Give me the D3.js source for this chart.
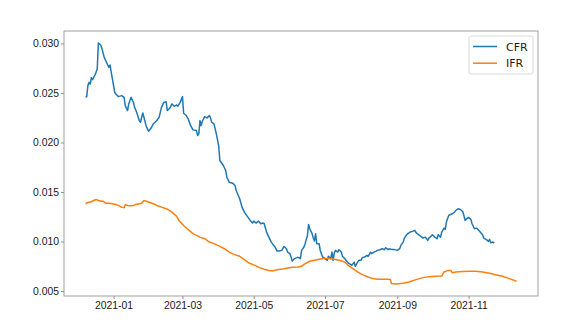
<!DOCTYPE html>
<html>
<head>
<meta charset="utf-8">
<script src="https://cdn.jsdelivr.net/npm/d3@7"></script>
<style>
  body { margin: 0; background: #fff; }
  svg { font-family: "DejaVu Sans", sans-serif; }
  .axis path, .axis line { stroke: #8c8c8c; }
  .axis text { fill: #1a1a1a; font-size: 10.4px; }
</style>
</head>
<body>
<svg id="main" width="586" height="324"></svg>
<script>
// values
var cfrDates = [
  "2020-12-08","2020-12-09","2020-12-10","2020-12-11","2020-12-12","2020-12-13","2020-12-14","2020-12-16",
  "2020-12-17","2020-12-18","2020-12-19","2020-12-21","2020-12-22","2020-12-24","2020-12-26","2020-12-28",
  "2020-12-29","2020-12-30","2020-12-31","2021-01-02","2021-01-03","2021-01-05","2021-01-08","2021-01-10",
  "2021-01-11","2021-01-13","2021-01-14","2021-01-16","2021-01-18","2021-01-19","2021-01-21","2021-01-23",
  "2021-01-24","2021-01-26","2021-01-27","2021-01-29","2021-01-31","2021-02-02","2021-02-04","2021-02-07",
  "2021-02-09","2021-02-11","2021-02-13","2021-02-15","2021-02-16","2021-02-18","2021-02-20","2021-02-22",
  "2021-02-24","2021-02-25","2021-02-27","2021-03-01","2021-03-02","2021-03-04","2021-03-06","2021-03-08",
  "2021-03-10","2021-03-13","2021-03-14","2021-03-15","2021-03-16","2021-03-17","2021-03-18","2021-03-20",
  "2021-03-22","2021-03-24","2021-03-25","2021-03-26","2021-03-28","2021-03-30","2021-04-01","2021-04-02",
  "2021-04-05","2021-04-07","2021-04-08","2021-04-10","2021-04-13","2021-04-15","2021-04-16","2021-04-19",
  "2021-04-21","2021-04-23","2021-04-26","2021-04-28","2021-04-30","2021-05-01","2021-05-03","2021-05-05",
  "2021-05-07","2021-05-09","2021-05-10","2021-05-12","2021-05-14","2021-05-16","2021-05-17","2021-05-19",
  "2021-05-21","2021-05-23","2021-05-25","2021-05-27","2021-05-29","2021-05-30","2021-06-01","2021-06-02",
  "2021-06-03","2021-06-05","2021-06-07","2021-06-09","2021-06-10","2021-06-11","2021-06-13","2021-06-14",
  "2021-06-16","2021-06-17","2021-06-18","2021-06-20","2021-06-21","2021-06-22","2021-06-23","2021-06-24",
  "2021-06-26","2021-06-27","2021-06-29","2021-06-30","2021-07-01","2021-07-03","2021-07-04","2021-07-06",
  "2021-07-07","2021-07-08","2021-07-09","2021-07-10","2021-07-12","2021-07-13","2021-07-15","2021-07-16",
  "2021-07-18","2021-07-19","2021-07-21","2021-07-22","2021-07-24","2021-07-26","2021-07-27","2021-07-29",
  "2021-07-30","2021-08-01","2021-08-02","2021-08-04","2021-08-06","2021-08-07","2021-08-09","2021-08-10",
  "2021-08-12","2021-08-14","2021-08-15","2021-08-17","2021-08-19","2021-08-21","2021-08-22","2021-08-24",
  "2021-08-25","2021-08-27","2021-08-29","2021-09-01","2021-09-03","2021-09-04","2021-09-06","2021-09-07",
  "2021-09-09","2021-09-10","2021-09-12","2021-09-14","2021-09-16","2021-09-17","2021-09-18","2021-09-20",
  "2021-09-22","2021-09-23","2021-09-25","2021-09-27","2021-09-28","2021-09-30","2021-10-01","2021-10-03",
  "2021-10-05","2021-10-06","2021-10-08","2021-10-09","2021-10-11","2021-10-12","2021-10-13","2021-10-15",
  "2021-10-16","2021-10-18","2021-10-20","2021-10-21","2021-10-23","2021-10-25","2021-10-27","2021-10-28",
  "2021-10-29","2021-10-31","2021-11-01","2021-11-03","2021-11-04","2021-11-06","2021-11-08","2021-11-09",
  "2021-11-11","2021-11-13","2021-11-14","2021-11-16","2021-11-18","2021-11-19","2021-11-20","2021-11-22",
  "2021-11-23"
];
var cfrValues = [
  0.02456,0.02463,0.02574,0.02607,0.02590,0.02654,0.02634,0.02681,
  0.02708,0.02742,0.03004,0.02984,0.02950,0.02859,0.02808,0.02758,
  0.02782,0.02708,0.02641,0.02506,0.02490,0.02463,0.02473,0.02456,
  0.02372,0.02322,0.02389,0.02456,0.02405,0.02355,0.02298,0.02221,
  0.02204,0.02298,0.02254,0.02163,0.02113,0.02143,0.02187,0.02221,
  0.02254,0.02355,0.02405,0.02412,0.02322,0.02345,0.02389,0.02365,
  0.02379,0.02365,0.02405,0.02463,0.02295,0.02275,0.02235,0.02170,
  0.02127,0.02120,0.02070,0.02087,0.02221,0.02170,0.02214,0.02261,
  0.02248,0.02271,0.02248,0.02204,0.02187,0.02087,0.01969,0.01818,
  0.01767,0.01717,0.01649,0.01599,0.01589,0.01566,0.01515,0.01431,
  0.01347,0.01296,0.01246,0.01213,0.01186,0.01206,0.01186,0.01206,
  0.01179,0.01186,0.01179,0.01095,0.01044,0.00994,0.00978,0.00950,
  0.00903,0.00903,0.00910,0.00950,0.00927,0.00893,0.00877,0.00843,
  0.00802,0.00827,0.00837,0.00837,0.00827,0.00910,0.00944,0.00978,
  0.01061,0.01172,0.01129,0.01079,0.01038,0.01004,0.01079,0.00978,
  0.00978,0.00910,0.00843,0.00837,0.00827,0.00810,0.00850,0.00827,
  0.00893,0.00810,0.00883,0.00910,0.00893,0.00917,0.00893,0.00850,
  0.00827,0.00810,0.00782,0.00776,0.00759,0.00792,0.00749,0.00792,
  0.00810,0.00810,0.00837,0.00843,0.00860,0.00850,0.00893,0.00877,
  0.00893,0.00903,0.00910,0.00917,0.00927,0.00917,0.00937,0.00917,
  0.00927,0.00920,0.00920,0.00910,0.00927,0.00960,0.00994,0.01034,
  0.01068,0.01079,0.01095,0.01102,0.01112,0.01089,0.01079,0.01061,
  0.01044,0.01034,0.01044,0.01011,0.01034,0.01054,0.01068,0.01044,
  0.01028,0.01068,0.01044,0.01095,0.01135,0.01122,0.01196,0.01263,
  0.01270,0.01280,0.01296,0.01313,0.01330,0.01323,0.01303,0.01263,
  0.01213,0.01236,0.01243,0.01223,0.01179,0.01129,0.01135,0.01122,
  0.01095,0.01068,0.01034,0.01021,0.01001,0.01021,0.00988,0.00994,
  0.00984
];
var ifrDates = [
  "2020-12-08","2020-12-10","2020-12-13","2020-12-15","2020-12-17","2020-12-19","2020-12-22","2020-12-23",
  "2020-12-25","2020-12-28","2020-12-31","2021-01-03","2021-01-05","2021-01-08","2021-01-10","2021-01-11",
  "2021-01-13","2021-01-15","2021-01-18","2021-01-20","2021-01-23","2021-01-25","2021-01-27","2021-01-29",
  "2021-02-01","2021-02-04","2021-02-07","2021-02-11","2021-02-15","2021-02-17","2021-02-20","2021-02-24",
  "2021-02-26","2021-03-02","2021-03-06","2021-03-10","2021-03-13","2021-03-16","2021-03-20","2021-03-24",
  "2021-03-28","2021-04-02","2021-04-06","2021-04-10","2021-04-14","2021-04-19","2021-04-23","2021-04-27",
  "2021-05-02","2021-05-06","2021-05-10","2021-05-14","2021-05-17","2021-05-22","2021-05-26","2021-05-30",
  "2021-06-03","2021-06-08","2021-06-11","2021-06-13","2021-06-18","2021-06-22","2021-06-26","2021-06-30",
  "2021-07-05","2021-07-09","2021-07-13","2021-07-18","2021-07-21","2021-07-25","2021-07-29","2021-08-02",
  "2021-08-07","2021-08-11","2021-08-15","2021-08-19","2021-08-24","2021-08-26","2021-08-27","2021-08-31",
  "2021-09-06","2021-09-11","2021-09-17","2021-09-23","2021-09-28","2021-10-04","2021-10-09","2021-10-11",
  "2021-10-14","2021-10-17","2021-10-18","2021-10-21","2021-10-27","2021-11-02","2021-11-07","2021-11-13",
  "2021-11-19","2021-11-24","2021-11-30","2021-12-06","2021-12-12"
];
var ifrValues = [
  0.01381,0.01394,0.01401,0.01414,0.01424,0.01414,0.01407,0.01407,
  0.01387,0.01387,0.01381,0.01374,0.01364,0.01347,0.01341,0.01371,
  0.01364,0.01361,0.01364,0.01374,0.01381,0.01387,0.01414,0.01407,
  0.01394,0.01381,0.01364,0.01347,0.01330,0.01320,0.01296,0.01253,
  0.01213,0.01162,0.01119,0.01079,0.01061,0.01044,0.01028,0.00994,
  0.00978,0.00950,0.00927,0.00893,0.00870,0.00850,0.00816,0.00782,
  0.00759,0.00736,0.00719,0.00706,0.00702,0.00716,0.00722,0.00732,
  0.00739,0.00742,0.00749,0.00769,0.00800,0.00810,0.00820,0.00827,
  0.00827,0.00820,0.00810,0.00792,0.00759,0.00726,0.00692,0.00665,
  0.00641,0.00625,0.00618,0.00618,0.00618,0.00615,0.00575,0.00571,
  0.00578,0.00591,0.00615,0.00635,0.00645,0.00648,0.00651,0.00692,
  0.00706,0.00706,0.00685,0.00692,0.00696,0.00699,0.00699,0.00692,
  0.00678,0.00665,0.00648,0.00625,0.00598
];
var seriesNames = ["CFR", "IFR"];
var seriesColors = ["#1f77b4", "#ff7f0e"];
var yTicks = [0.005, 0.010, 0.015, 0.020, 0.025, 0.030];

var parseDate = d3.timeParse("%Y-%m-%d");

function toPoints(dates, values) {
  return dates.map(function(d, i) {
    return { date: parseDate(d), value: values[i] };
  });
}

var series = [toPoints(cfrDates, cfrValues), toPoints(ifrDates, ifrValues)];

var svg = d3.select("#main");
var margin = { top: 31, right: 48, bottom: 28, left: 64 };
var width = 586 - margin.left - margin.right;
var height = 324 - margin.top - margin.bottom;

// matplotlib-like 5% padding around the data
var allPoints = series[0].concat(series[1]);
var xExt = d3.extent(allPoints, function(d) { return +d.date; });
var yExt = d3.extent(allPoints, function(d) { return d.value; });
var xPad = (xExt[1] - xExt[0]) * 0.05;
var yPad = (yExt[1] - yExt[0]) * 0.05;

var x = d3.scaleTime()
  .domain([new Date(xExt[0] - xPad), new Date(xExt[1] + xPad)])
  .range([0, width]);
var y = d3.scaleLinear()
  .domain([yExt[0] - yPad, yExt[1] + yPad])
  .range([height, 0]);

var g = svg.append("g").attr("transform", "translate(" + margin.left + "," + margin.top + ")");

g.append("g")
  .attr("class", "axis")
  .attr("transform", "translate(0," + height + ")")
  .call(d3.axisBottom(x)
    .ticks(d3.timeMonth.every(2))
    .tickFormat(d3.timeFormat("%Y-%m"))
    .tickSize(3)
    .tickPadding(3))
  .call(function(a) { a.select(".domain").remove(); });

g.append("g")
  .attr("class", "axis")
  .call(d3.axisLeft(y)
    .tickValues(yTicks)
    .tickFormat(d3.format(".3f"))
    .tickSize(3)
    .tickPadding(2))
  .call(function(a) { a.select(".domain").remove(); });

var line = d3.line()
  .x(function(d) { return x(d.date); })
  .y(function(d) { return y(d.value); });

g.selectAll("path.series")
  .data(series)
  .enter()
  .append("path")
  .attr("class", "series")
  .attr("fill", "none")
  .attr("stroke", function(d, i) { return seriesColors[i]; })
  .attr("stroke-width", 1.5)
  .attr("stroke-linejoin", "round")
  .attr("d", line);

// axes frame
g.append("rect")
  .attr("width", width)
  .attr("height", height)
  .attr("fill", "none")
  .attr("stroke", "#a0a0a0")
  .attr("stroke-width", 1);

// legend
var legend = g.append("g").attr("transform", "translate(" + (width - 69) + ",5)");
legend.append("rect")
  .attr("width", 64)
  .attr("height", 38)
  .attr("rx", 2)
  .attr("fill", "#fff")
  .attr("fill-opacity", 0.8)
  .attr("stroke", "#d9d9d9");

var items = legend.selectAll("g.item")
  .data(seriesNames)
  .enter()
  .append("g")
  .attr("class", "item")
  .attr("transform", function(d, i) { return "translate(0," + (10.5 + i * 16.7) + ")"; });

items.append("line")
  .attr("x1", 4).attr("x2", 28)
  .attr("stroke", function(d, i) { return seriesColors[i]; })
  .attr("stroke-width", 1.5);

items.append("text")
  .attr("x", 37)
  .attr("y", 4)
  .attr("font-size", "11px")
  .attr("fill", "#1a1a1a")
  .text(function(d) { return d; });
</script>
</body>
</html>
